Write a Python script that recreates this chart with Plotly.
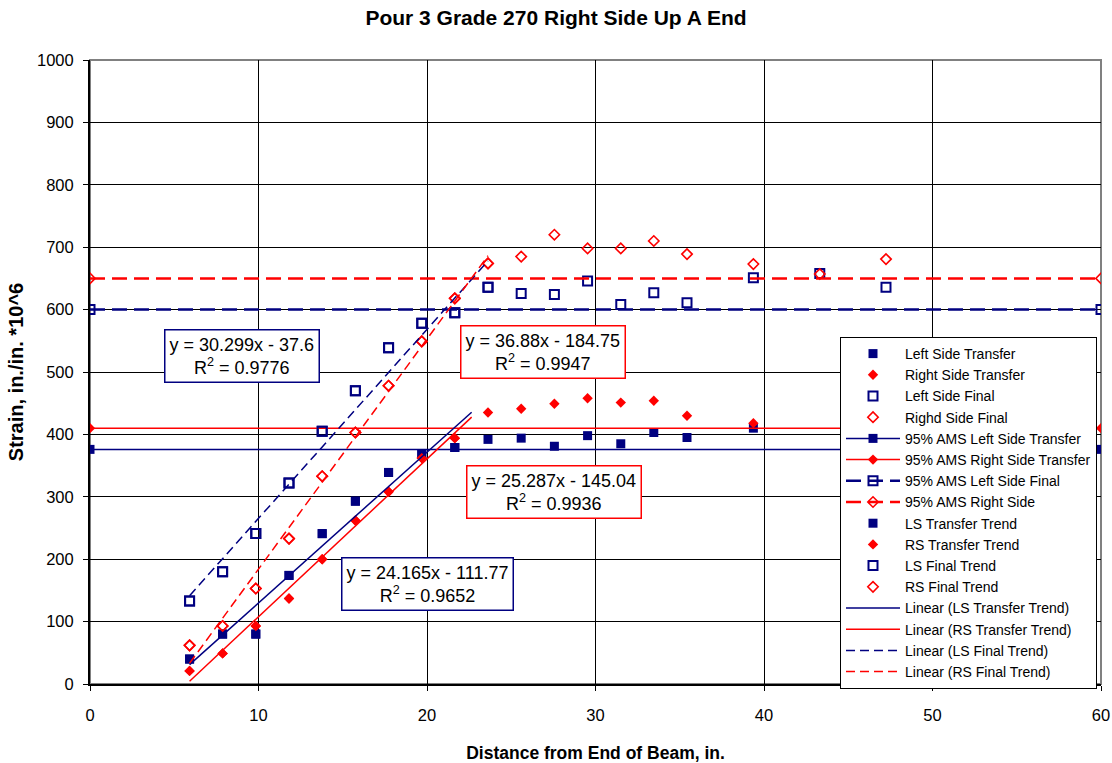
import numpy as np
import plotly.graph_objects as go

# ---------------- data ----------------
x_transfer = [5.91, 7.87, 9.84, 11.81, 13.78, 15.75, 17.72, 19.69, 21.65, 23.62,
              25.59, 27.56, 29.53, 31.50, 33.46, 35.43, 39.37]
x_final = x_transfer + [43.31, 47.24]

ls_transfer = [40, 80, 80, 174, 241, 293, 339, 368, 379, 392, 394, 381, 398, 385, 403, 395, 410]
rs_transfer = [21, 49, 93, 137, 200, 262, 308, 362, 394, 435, 441, 449, 458, 451, 454, 430, 418]
ls_final = [133, 180, 241, 322, 405, 470, 539, 578, 595, 636, 626, 624, 646, 608, 627, 611, 651, 658, 636]
rs_final = [62, 93, 153, 233, 333, 403, 478, 549, 618, 674, 685, 720, 698, 698, 710, 689, 673, 657, 681]

ams_x = [0, 60]
ams_ls_transfer = 376
ams_rs_transfer = 410
ams_ls_final = 600
ams_rs_final = 650

# points used for the trend series
n_trend_transfer = 9
n_trend_final = 10

# linear trendlines (slope, intercept, R^2, x start, x end)
trend_names = ["LS Transfer Trend", "RS Transfer Trend", "LS Final Trend", "RS Final Trend"]
trend_slope = [24.165, 25.287, 30.299, 36.88]
trend_intercept = [-111.77, -145.04, -37.6, -184.75]
trend_r2 = ["0.9652", "0.9936", "0.9776", "0.9947"]
trend_x0 = [5.91, 5.91, 5.91, 5.91]
trend_x1 = [22.65, 22.65, 23.62, 23.62]
# label anchor (data coords) for each trend equation box
label_x = [20.05, 27.55, 9.0, 26.9]
label_y = [161, 308, 526, 532]

x_ticks = [0, 10, 20, 30, 40, 50, 60]
y_ticks = list(range(0, 1001, 100))

# ---------------- styles ----------------
NAVY = "#000080"
RED = "#FF0000"
FONT = "Liberation Sans, Arial, sans-serif"

m_ls_t = dict(symbol="square", size=9, color=NAVY)
m_rs_t = dict(symbol="diamond", size=8, color=RED)
m_ls_f = dict(symbol="square-open", size=9, color=NAVY, line=dict(width=2, color=NAVY))
m_rs_f = dict(symbol="diamond-open", size=8, color=RED, line=dict(width=1.6, color=RED))

fig = go.Figure()

def mk(x, y, name, marker):
    fig.add_trace(go.Scatter(x=x, y=y, mode="markers", name=name, marker=marker))

mk(x_transfer, ls_transfer, "Left Side Transfer", m_ls_t)
mk(x_transfer, rs_transfer, "Right Side Transfer", m_rs_t)
mk(x_final, ls_final, "Left Side Final", m_ls_f)
mk(x_final, rs_final, "Righd Side Final", m_rs_f)

AMS_DASH = "15px,7px"
fig.add_trace(go.Scatter(x=ams_x, y=[ams_ls_transfer] * 2, mode="lines+markers",
                         name="95% AMS Left Side Transfer", marker=m_ls_t,
                         line=dict(color=NAVY, width=1.5)))
fig.add_trace(go.Scatter(x=ams_x, y=[ams_rs_transfer] * 2, mode="lines+markers",
                         name="95% AMS Right Side Transfer", marker=m_rs_t,
                         line=dict(color=RED, width=1.5)))
fig.add_trace(go.Scatter(x=ams_x, y=[ams_ls_final] * 2, mode="lines+markers",
                         name="95% AMS Left Side Final", marker=m_ls_f,
                         line=dict(color=NAVY, width=2.5, dash=AMS_DASH)))
fig.add_trace(go.Scatter(x=ams_x, y=[ams_rs_final] * 2, mode="lines+markers",
                         name="95% AMS Right Side", marker=m_rs_f,
                         line=dict(color=RED, width=2.5, dash=AMS_DASH)))

mk(x_transfer[:n_trend_transfer], ls_transfer[:n_trend_transfer], "LS Transfer Trend", m_ls_t)
mk(x_transfer[:n_trend_transfer], rs_transfer[:n_trend_transfer], "RS Transfer Trend", m_rs_t)
mk(x_final[:n_trend_final], ls_final[:n_trend_final], "LS Final Trend", m_ls_f)
mk(x_final[:n_trend_final], rs_final[:n_trend_final], "RS Final Trend", m_rs_f)

trend_colors = [NAVY, RED, NAVY, RED]
trend_dash = ["solid", "solid", "9px,5px", "9px,5px"]
for i in range(4):
    xs = np.array([trend_x0[i], trend_x1[i]])
    ys = trend_slope[i] * xs + trend_intercept[i]
    fig.add_trace(go.Scatter(x=xs, y=ys, mode="lines", name=f"Linear ({trend_names[i]})",
                             line=dict(color=trend_colors[i], width=1.5, dash=trend_dash[i])))
    sign = "-" if trend_intercept[i] < 0 else "+"
    txt = (f"y = {trend_slope[i]:g}x {sign} {abs(trend_intercept[i]):g}<br>"
           f"R<sup>2</sup> = {trend_r2[i]}")
    fig.add_annotation(x=label_x[i], y=label_y[i], xref="x", yref="y", text=txt,
                       showarrow=False, font=dict(family=FONT, size=18, color="#000000"),
                       bgcolor="#FFFFFF", bordercolor=trend_colors[i], borderwidth=1.5,
                       borderpad=4, align="center")

# plot area border (gray top/right as in Excel)
fig.add_shape(type="rect", xref="paper", yref="paper", x0=0, x1=1, y0=0, y1=1,
              line=dict(color="#808080", width=2), layer="between")

fig.update_layout(
    width=1112, height=763,
    margin=dict(l=90, r=11, t=60, b=79, autoexpand=False),
    paper_bgcolor="#FFFFFF", plot_bgcolor="#FFFFFF",
    font=dict(family=FONT, color="#000000"),
    title=dict(text="<b>Pour 3 Grade 270 Right Side Up A End</b>", x=0.5, xanchor="center",
               y=1 - 18 / 763, yanchor="middle", yref="container",
               font=dict(family=FONT, size=21, color="#000000")),
    showlegend=True,
    legend=dict(x=(1097 - 90) / 1011, xanchor="right", y=(684 - 337) / 624, yanchor="top",
                bgcolor="#FFFFFF", bordercolor="#000000", borderwidth=1,
                font=dict(family=FONT, size=14, color="#000000"),
                itemwidth=54, traceorder="normal", tracegroupgap=0),
)

fig.update_xaxes(range=[0, 60], tickvals=x_ticks, showgrid=True, gridcolor="#000000", gridwidth=1,
                 zeroline=False, showline=True, linecolor="#000000", linewidth=2,
                 ticks="outside", ticklen=5, tickcolor="#000000", ticklabelstandoff=10,
                 tickfont=dict(family=FONT, size=16.5), automargin=False,
                 title=dict(text="<b>Distance from End of Beam, in.</b>", standoff=26,
                            font=dict(family=FONT, size=17.5)))
fig.update_yaxes(range=[0, 1000], tickvals=y_ticks, showgrid=True, gridcolor="#000000", gridwidth=1,
                 zeroline=False, showline=True, linecolor="#000000", linewidth=2,
                 ticks="outside", ticklen=5, tickcolor="#000000", ticklabelstandoff=6,
                 tickfont=dict(family=FONT, size=16.5), automargin=False,
                 title=dict(text="<b>Strain, in./in. *10^6</b>", standoff=8,
                            font=dict(family=FONT, size=20)))

fig.write_html("out.html", config={"displayModeBar": False},
               post_script="document.body.style.margin='0';document.body.style.padding='0';"
                           "document.documentElement.style.overflow='hidden';")
